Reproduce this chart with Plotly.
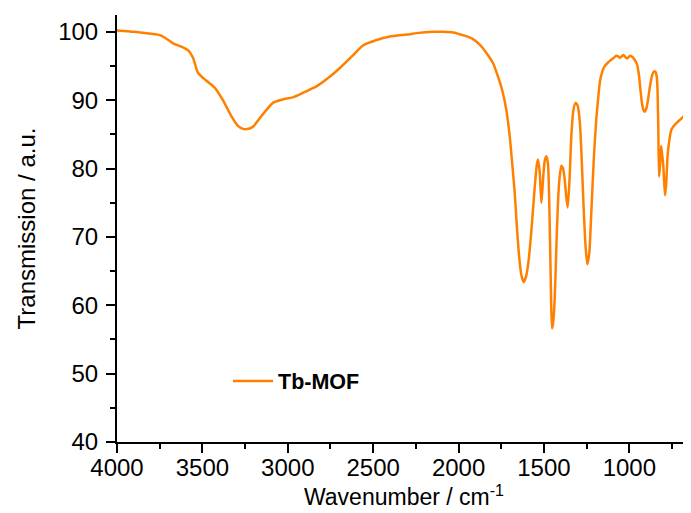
import plotly.graph_objects as go

wavenumber = [4000, 3900, 3800, 3749, 3700, 3672, 3620, 3584, 3555, 3526, 3480, 3427, 3380, 3329,
              3290, 3262, 3230, 3204, 3150, 3087, 3030, 2970, 2900, 2832, 2760, 2695, 2620, 2560,
              2480, 2403, 2300, 2246, 2150, 2090, 2030, 1975, 1920, 1876, 1840, 1798, 1770, 1740,
              1720, 1700, 1685, 1671, 1660, 1647, 1633, 1619, 1605, 1590, 1575, 1554, 1542, 1535,
              1525, 1515, 1505, 1495, 1485, 1476, 1466, 1459, 1453, 1446, 1437, 1428, 1418, 1408,
              1398, 1388, 1379, 1370, 1361, 1350, 1340, 1328, 1315, 1303, 1291, 1280, 1268, 1256,
              1246, 1235, 1223, 1208, 1194, 1180, 1171, 1158, 1146, 1125, 1106, 1090, 1077, 1066,
              1057, 1045, 1034, 1024, 1014, 1004, 995, 982, 969, 956, 945, 935, 926, 918, 911, 900,
              891, 878, 866, 855, 846, 840, 835, 830, 826, 820, 814, 808, 802, 796, 791, 785, 775,
              765, 755, 740, 726, 705, 687, 665, 648, 639]
transmission = [100.2, 100.0, 99.7, 99.5, 98.8, 98.3, 97.8, 97.3, 96.2, 94.0, 92.9, 91.8, 90.0, 87.6,
                86.2, 85.8, 85.8, 86.1, 87.8, 89.6, 90.1, 90.4, 91.2, 92.0, 93.3, 94.7, 96.5, 98.0,
                98.8, 99.3, 99.6, 99.8, 100.0, 100.0, 99.9, 99.5, 99.0, 98.1, 97.0, 95.4, 93.5, 91.0,
                88.5, 84.6, 80.5, 76.4, 72.0, 67.6, 64.5, 63.4, 64.2, 66.5, 70.5, 77.3, 80.5, 81.3,
                79.5, 75.0, 78.5, 81.2, 81.8, 80.5, 71.5, 62.0, 56.6, 57.5, 61.0, 68.0, 75.0, 78.8,
                80.4, 80.0, 78.5, 76.0, 74.3, 78.5, 84.6, 88.5, 89.6, 89.2, 87.1, 82.0, 74.4, 68.5,
                66.0, 67.5, 73.4, 81.5, 87.1, 91.0, 92.9, 94.2, 94.9, 95.5, 95.9, 96.2, 96.5, 96.4,
                96.2, 96.4, 96.6, 96.3, 96.1, 96.3, 96.5, 96.3, 95.9, 95.3, 93.9, 91.5, 89.5, 88.6,
                88.3, 88.8, 90.0, 92.2, 93.7, 94.2, 94.1, 93.5, 91.5, 85.0, 78.8, 80.5, 83.3, 82.0,
                80.7, 78.0, 76.1, 77.5, 82.2, 84.3, 85.6, 86.2, 86.6, 87.1, 87.5, 87.8, 87.9, 88.0]

series_name = "Tb-MOF"
x_ticks = [4000, 3500, 3000, 2500, 2000, 1500, 1000]
y_ticks = [40, 50, 60, 70, 80, 90, 100]

FONT = "Liberation Sans, Arial, sans-serif"

fig = go.Figure()
fig.add_trace(go.Scatter(
    x=wavenumber, y=transmission, mode="lines", name=series_name,
    line=dict(color="#FF8000", width=2.5, shape="spline", smoothing=0.6),
))

axis_common = dict(
    showline=True, linecolor="black", linewidth=2, mirror=False,
    ticks="outside", ticklen=9, tickwidth=2, tickcolor="black",
    showgrid=False, zeroline=False, automargin=False,
    tickfont=dict(family=FONT, size=24, color="black"),
)

fig.update_xaxes(
    range=[4000, 639], tickvals=x_ticks, ticktext=[str(v) for v in x_ticks],
    ticklabelstandoff=-6,
    minor=dict(ticks="outside", ticklen=5, tickwidth=2, tickcolor="black", dtick=250, tick0=0),
    title=dict(text="Wavenumber / cm<sup>-1</sup>", font=dict(family=FONT, size=23, color="black"), standoff=2),
    **axis_common,
)
fig.update_yaxes(
    range=[40, 102.45], tickvals=y_ticks, ticktext=[str(v) for v in y_ticks],
    ticklabelstandoff=3,
    minor=dict(ticks="outside", ticklen=5, tickwidth=2, tickcolor="black", dtick=5, tick0=0),
    title=dict(text="Transmission / a.u.", font=dict(family=FONT, size=24, color="black"), standoff=16),
    **axis_common,
)

# page body has an 8px default margin: the figure is sized/offset to compensate
fig.update_layout(
    width=683, height=505,
    margin=dict(l=109, r=0, t=7, b=71),
    paper_bgcolor="white", plot_bgcolor="white",
    showlegend=True,
    legend=dict(
        x=(228 - 117) / 574, xanchor="left", y=(442 - 381) / 427, yanchor="middle",
        bgcolor="rgba(0,0,0,0)", borderwidth=0,
        font=dict(family=FONT, size=21.5, color="black", weight="bold"),
        itemwidth=40,
    ),
)

fig.write_html("out.html")
